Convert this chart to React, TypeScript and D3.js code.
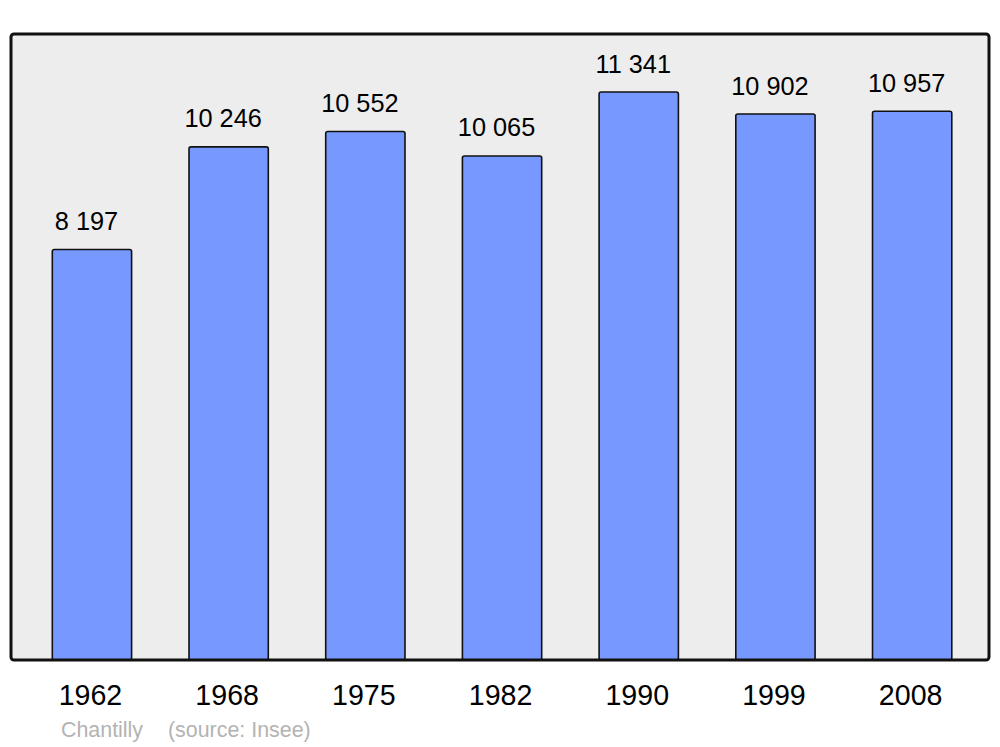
import React from "react";
import * as d3 from "d3";

const years = ["1962", "1968", "1975", "1982", "1990", "1999", "2008"];
const population = [8197, 10246, 10552, 10065, 11341, 10902, 10957];
const town = "Chantilly";
const source = "(source: Insee)";

const W = 1000;
const H = 747;
const frame = { x: 11, y: 34, w: 978, h: 626 };

// thousands separated by a space, as in the french original
const fmt = (n: number) => d3.format(",")(n).replace(/,/g, " ");

export default function App() {
  const x = d3
    .scaleBand()
    .domain(years)
    .range([23.6, 980.5])
    .paddingInner(0.42)
    .paddingOuter(0.21);

  const y = d3
    .scaleLinear()
    .domain([0, 12500])
    .range([frame.y + frame.h, frame.y]);

  const font = "'Liberation Sans', Arial, sans-serif";

  return (
    <svg
      width={W}
      height={H}
      style={{ position: "absolute", left: 0, top: 0, background: "#fff" }}
      fontFamily={font}
    >
      <rect
        x={frame.x}
        y={frame.y}
        width={frame.w}
        height={frame.h}
        rx={3}
        fill="#ededed"
      />
      {years.map((yr, i) => {
        const bx = x(yr)!;
        const top = y(population[i]);
        return (
          <g key={yr}>
            <rect
              x={bx}
              y={top}
              width={x.bandwidth()}
              height={y(0) - top}
              rx={2}
              fill="#7799ff"
              stroke="#111"
              strokeWidth={1.6}
            />
            <text
              x={bx + x.bandwidth() / 2 - 5.5}
              y={top - 19.5}
              textAnchor="middle"
              fontSize={25.3}
              fill="#000"
            >
              {fmt(population[i])}
            </text>
            <text
              x={bx + x.bandwidth() / 2 - 1.5}
              y={705}
              textAnchor="middle"
              fontSize={28.6}
              fill="#000"
            >
              {yr}
            </text>
          </g>
        );
      })}
      <rect
        x={frame.x}
        y={frame.y}
        width={frame.w}
        height={frame.h}
        rx={3}
        fill="none"
        stroke="#111"
        strokeWidth={3}
      />
      <text x={61} y={737} fontSize={21.4} fill="#b3b3b3">
        {town}
      </text>
      <text x={168} y={737} fontSize={21.4} fill="#b3b3b3">
        {source}
      </text>
    </svg>
  );
}
